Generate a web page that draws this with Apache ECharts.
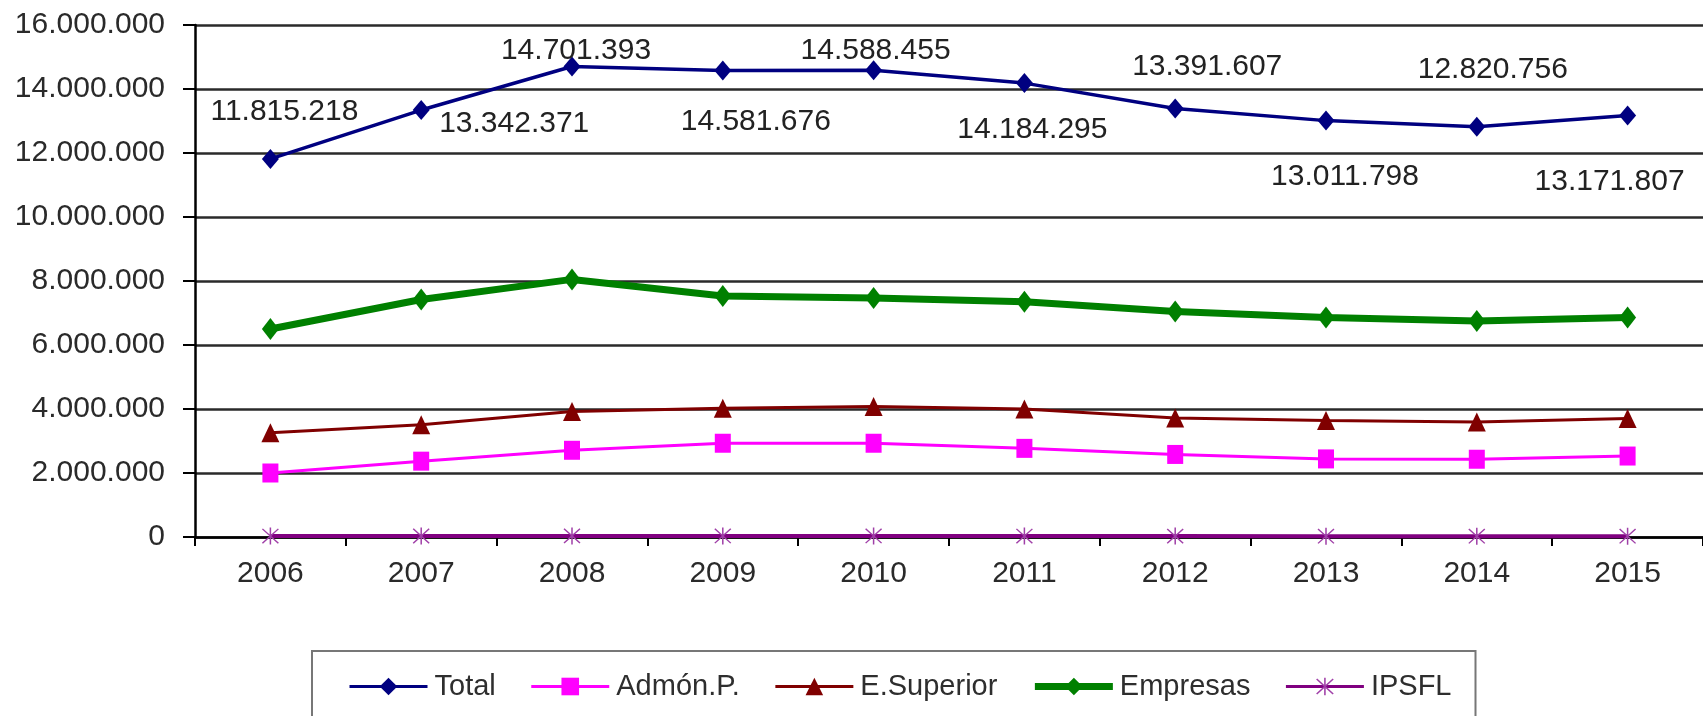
<!DOCTYPE html>
<html>
<head>
<meta charset="utf-8">
<script src="https://cdn.jsdelivr.net/npm/echarts@6/dist/echarts.min.js"></script>
<style>
html,body{margin:0;padding:0;background:#fff;}
#chart{width:1703px;height:716px;}
</style>
</head>
<body>
<div id="chart"></div>
<script>
// años
var years = ['2006','2007','2008','2009','2010','2011','2012','2013','2014','2015'];
// valores por sector
var total      = [11815218, 13342371, 14701393, 14581676, 14588455, 14184295, 13391607, 13011798, 12820756, 13171807];
var admonP     = [2000000, 2370000, 2710000, 2930000, 2930000, 2770000, 2580000, 2440000, 2430000, 2530000];
var eSuperior  = [3260000, 3510000, 3920000, 4020000, 4080000, 4000000, 3720000, 3640000, 3590000, 3700000];
var empresas   = [6500000, 7420000, 8050000, 7530000, 7470000, 7350000, 7050000, 6860000, 6750000, 6860000];
var ipsfl      = [30000, 32000, 35000, 33000, 33000, 30000, 28000, 25000, 25000, 25000];
// desplazamiento de las etiquetas del total (respecto al punto)
var totalLabelOffset = [[14,-47],[93,14],[4,-16],[33,51],[2,-19],[8,47],[32,-42],[19,56],[16,-57],[-18,66]];

var numFont = 'Liberation Sans, Arial, sans-serif';

function fmt(v){
	return String(v).replace(/\B(?=(\d{3})+(?!\d))/g, '.');
}

// asterisco para IPSFL
var starPath = 'path://M9.2,0 L10.8,0 L10.8,20 L9.2,20 Z M1,2.1 L2.1,1 L19,17.9 L17.9,19 Z M17.9,1 L19,2.1 L2.1,19 L1,17.9 Z';

var totalData = total.map(function(v, i){
	return {
		value: v,
		label: {show:true, position:'inside', offset: totalLabelOffset[i]}
	};
});

var myChart = echarts.init(document.getElementById('chart'));
var option = {
	animation: false,
	backgroundColor: '#fff',
	grid: {left:195, top:25, right:-12, bottom:179},
	legend: {
		left: 312,
		top: 651,
		orient: 'horizontal',
		borderColor: '#777',
		borderWidth: 2,
		padding: [21, 24, 40, 36],
		itemGap: 34,
		itemWidth: 78,
		itemHeight: 22,
		textStyle: {fontFamily: numFont, fontSize: 29, color: '#2e2e2e', padding:[0,0,0,2]},
		data: [
			{name:'Total', lineStyle:{width:3}},
			{name:'Admón.P.', lineStyle:{width:3}},
			{name:'E.Superior', lineStyle:{width:3}},
			{name:'Empresas', lineStyle:{width:7}},
			{name:'IPSFL', lineStyle:{width:3}}
		]
	},
	xAxis: {
		type: 'category',
		data: years,
		boundaryGap: true,
		axisLine: {show:true, lineStyle:{color:'#000', width:2.5}},
		axisTick: {show:true, length:9, lineStyle:{color:'#000', width:2}},
		axisLabel: {fontFamily: numFont, fontSize: 30, color:'#2a2a2a', margin: 22},
		splitLine: {show:false}
	},
	yAxis: {
		type: 'value',
		min: 0,
		max: 16000000,
		interval: 2000000,
		axisLine: {show:true, lineStyle:{color:'#000', width:2.5}},
		axisTick: {show:true, length:12, lineStyle:{color:'#000', width:2}},
		axisLabel: {fontFamily: numFont, fontSize: 30, color:'#2a2a2a', margin: 30, formatter: fmt},
		splitLine: {show:true, lineStyle:{color:'#2a2a2a', width:2.5}}
	},
	series: [
		{
			name: 'IPSFL', type: 'line', data: ipsfl, z: 2,
			symbol: starPath, symbolSize: 17,
			itemStyle: {color:'#a040a8'},
			lineStyle: {color:'#800080', width:4}
		},
		{
			name: 'Admón.P.', type: 'line', data: admonP, z: 3,
			symbol: 'rect', symbolSize: [16, 19],
			itemStyle: {color:'#ff00ff'},
			lineStyle: {color:'#ff00ff', width:3}
		},
		{
			name: 'E.Superior', type: 'line', data: eSuperior, z: 4,
			symbol: 'triangle', symbolSize: [18, 19],
			itemStyle: {color:'#800000'},
			lineStyle: {color:'#800000', width:3}
		},
		{
			name: 'Empresas', type: 'line', data: empresas, z: 5,
			symbol: 'diamond', symbolSize: [17, 22],
			itemStyle: {color:'#008000'},
			lineStyle: {color:'#008000', width:7}
		},
		{
			name: 'Total', type: 'line', data: totalData, z: 6,
			symbol: 'diamond', symbolSize: [17, 20],
			itemStyle: {color:'#000080'},
			lineStyle: {color:'#000080', width:3.5},
			label: {fontFamily: numFont, fontSize: 30, color:'#222', formatter: function(p){ return fmt(p.value); }}
		}
	]
};
myChart.setOption(option);
</script>
</body>
</html>
